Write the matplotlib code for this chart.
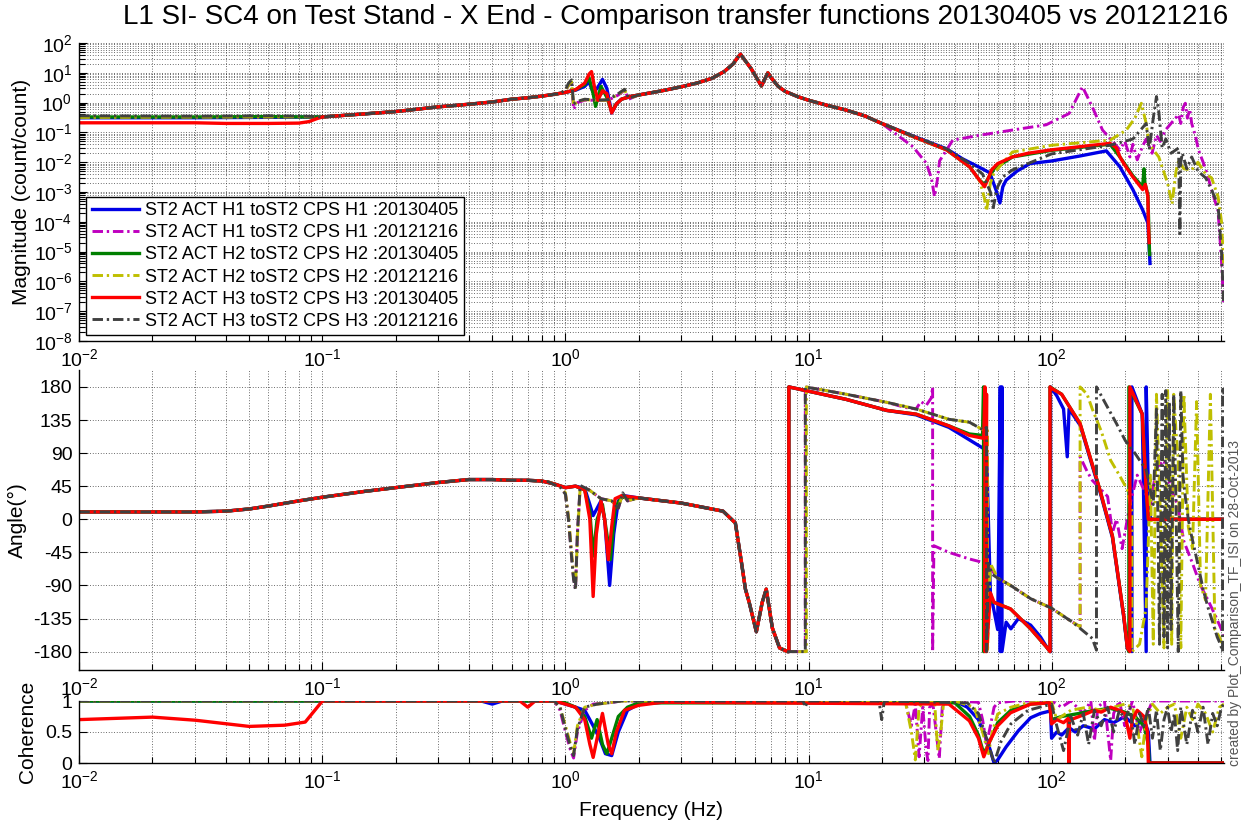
import numpy as np
import matplotlib
matplotlib.use("Agg")
import matplotlib.pyplot as plt
from matplotlib.ticker import LogLocator, NullFormatter, FixedLocator

plt.rcParams['font.family'] = ['Liberation Sans', 'DejaVu Sans']
plt.rcParams['mathtext.fontset'] = 'custom'
plt.rcParams['mathtext.rm'] = 'Liberation Sans'
plt.rcParams['mathtext.it'] = 'Liberation Sans:italic'
plt.rcParams['mathtext.bf'] = 'Liberation Sans:bold'
plt.rcParams['axes.unicode_minus'] = False

# ---------------------------------------------------------------- labels
TITLE = "L1 SI- SC4 on Test Stand - X End - Comparison transfer functions 20130405 vs 20121216"
LABELS = [
    "ST2 ACT H1 toST2 CPS H1 :20130405",
    "ST2 ACT H1 toST2 CPS H1 :20121216",
    "ST2 ACT H2 toST2 CPS H2 :20130405",
    "ST2 ACT H2 toST2 CPS H2 :20121216",
    "ST2 ACT H3 toST2 CPS H3 :20130405",
    "ST2 ACT H3 toST2 CPS H3 :20121216",
]
COLORS = ["#0000e6", "#bf00bf", "#007f00", "#bfbf00", "#ff0000", "#404040"]
STYLES = ["-", "-.", "-", "-.", "-", "-."]
XTICKS = [0.01, 0.1, 1, 10, 100]
PHASE_TICKS = [-180, -135, -90, -45, 0, 45, 90, 135, 180]
COH_TICKS = [0, 0.5, 1]
COH_TICK_LABELS = ["0", "0.5", "1"]

# ---------------------------------------------------------------- magnitude (count/count)
# shared rise between 0.1 Hz and 0.9 Hz
MAG_RISE_F = [0.1, 0.15, 0.2, 0.3, 0.4, 0.5, 0.6, 0.7, 0.8, 0.9]
MAG_RISE = [0.33, 0.42, 0.5, 0.72, 0.88, 1.05, 1.3, 1.45, 1.65, 1.9]
# shared stage resonances between 2 Hz and 17 Hz
MAG_MID_F = [2.0, 2.5, 3.0, 3.5, 4.0, 4.5, 4.9, 5.1, 5.25, 5.5, 5.8, 6.1, 6.4, 6.6,
             6.8, 7.0, 7.5, 8.0, 9.0, 10.0, 12.0, 14.3, 17.0]
MAG_MID = [1.8, 2.5, 3.4, 4.6, 6.5, 11.0, 20.0, 32.0, 42.0, 25.0, 14.0, 7.0, 3.6, 6.0,
           10.0, 7.0, 3.5, 2.4, 1.6, 1.2, 0.8, 0.56, 0.36]

# H1 20130405
MAG_H1_NEW_LOW_F = [0.01, 0.03, 0.06, 0.085]
MAG_H1_NEW_LOW = [0.31, 0.31, 0.32, 0.33]
MAG_H1_NEW_RES_F = [1.0, 1.1, 1.2, 1.25, 1.3, 1.35, 1.42, 1.48, 1.55, 1.62, 1.7, 1.85]
MAG_H1_NEW_RES = [2.2, 2.6, 3.5, 5.0, 2.2, 3.0, 6.0, 3.0, 0.45, 0.9, 1.3, 1.6]
MAG_H1_NEW_HI_F = [20, 27, 37, 43, 50, 55.7, 59, 61.3, 63, 65, 72, 81.5, 100, 130, 168,
                   191, 216, 237, 249, 254]
MAG_H1_NEW_HI = [0.2, 0.075, 0.028, 0.013, 0.007, 0.0044, 0.0012, 4.3e-4, 0.0015, 0.0025,
                 0.005, 0.009, 0.011, 0.016, 0.024, 0.007, 0.0012, 2.5e-4, 9e-5, 4e-6]

# H1 20121216
MAG_H1_OLD_LOW_F = [0.01, 0.03, 0.06, 0.085]
MAG_H1_OLD_LOW = [0.32, 0.32, 0.33, 0.33]
MAG_H1_OLD_RES_F = [0.95, 1.0, 1.03, 1.06, 1.08, 1.12, 1.2, 1.35, 1.5, 1.65, 1.75, 1.82]
MAG_H1_OLD_RES = [2.0, 2.6, 3.8, 4.5, 0.6, 1.0, 1.2, 1.2, 1.2, 1.8, 2.6, 1.3]
MAG_H1_OLD_HI_F = [20, 26.9, 30.5, 32, 33, 34, 34.6, 39.2, 50.5, 69, 95, 118, 134, 147,
                   162, 191, 200, 210, 216, 225, 237, 245, 259, 270, 280, 294, 333, 340,
                   348, 355, 362, 370, 377, 390, 402, 430, 455, 484, 500, 510]
MAG_H1_OLD_HI = [0.2, 0.033, 0.0093, 0.003, 7e-4, 0.003, 0.011, 0.055, 0.08, 0.12, 0.18,
                 0.43, 3.4, 0.72, 0.12, 0.026, 0.05, 0.015, 0.04, 0.012, 0.035, 0.06, 0.02,
                 0.08, 0.05, 0.12, 0.4, 0.2, 0.7, 0.95, 0.3, 0.6, 0.2, 0.08, 0.026, 0.006,
                 1.2e-3, 2.3e-4, 5e-6, 2e-7]

# H2 20130405
MAG_H2_NEW_LOW_F = [0.01, 0.03, 0.06, 0.085]
MAG_H2_NEW_LOW = [0.33, 0.33, 0.34, 0.33]
MAG_H2_NEW_RES_F = [1.0, 1.1, 1.2, 1.25, 1.3, 1.33, 1.4, 1.48, 1.55, 1.62, 1.7, 1.85]
MAG_H2_NEW_RES = [2.2, 2.7, 4.0, 7.0, 2.0, 0.75, 3.5, 1.5, 0.5, 0.9, 1.3, 1.6]
MAG_H2_NEW_HI_F = [20, 27, 37, 46, 50.5, 53, 55, 58, 69, 100, 174, 191, 216, 237, 240,
                   242, 249, 253]
MAG_H2_NEW_HI = [0.2, 0.072, 0.026, 0.007, 0.0025, 0.0018, 0.003, 0.006, 0.015, 0.025,
                 0.04, 0.015, 0.0035, 0.0015, 0.006, 0.002, 0.0008, 8e-6]

# H2 20121216
MAG_H2_OLD_LOW_F = [0.01, 0.03, 0.06, 0.085]
MAG_H2_OLD_LOW = [0.32, 0.33, 0.33, 0.34]
MAG_H2_OLD_RES_F = [0.95, 1.0, 1.03, 1.06, 1.08, 1.12, 1.2, 1.35, 1.5, 1.65, 1.75, 1.82]
MAG_H2_OLD_RES = [2.0, 2.6, 3.8, 5.0, 0.8, 1.1, 1.25, 1.2, 1.2, 1.9, 2.7, 1.35]
MAG_H2_OLD_HI_F = [20, 27, 37, 46, 50.5, 53, 54, 56, 58, 69, 100, 174, 203, 220, 234,
                   245, 252, 276, 300, 313, 325, 333, 350, 377, 400, 430, 455, 484, 500, 510]
MAG_H2_OLD_HI = [0.2, 0.072, 0.026, 0.007, 0.0025, 0.0006, 2.3e-4, 0.002, 0.0044, 0.022,
                 0.037, 0.055, 0.12, 0.3, 0.95, 0.2, 0.04, 0.015, 0.002, 4e-4, 0.005,
                 0.011, 0.006, 0.0055, 0.01, 0.004, 0.003, 7e-4, 1e-4, 4e-6]

# H3 20130405
MAG_H3_NEW_LOW_F = [0.01, 0.02, 0.03, 0.04, 0.06, 0.08, 0.088, 0.095]
MAG_H3_NEW_LOW = [0.21, 0.21, 0.21, 0.2, 0.2, 0.205, 0.23, 0.29]
MAG_H3_NEW_RES_F = [1.0, 1.1, 1.2, 1.25, 1.28, 1.32, 1.36, 1.42, 1.48, 1.55, 1.62, 1.7, 1.85]
MAG_H3_NEW_RES = [2.2, 2.7, 4.5, 9.0, 11.0, 3.0, 1.2, 2.5, 2.0, 0.45, 0.9, 1.3, 1.6]
MAG_H3_NEW_HI_F = [20, 27, 37, 46, 50.5, 53, 55, 56.6, 60, 69, 80, 100, 130, 174, 185,
                   191, 200, 216, 237, 243, 249, 250, 252]
MAG_H3_NEW_HI = [0.2, 0.072, 0.026, 0.007, 0.0025, 0.0015, 0.003, 0.0055, 0.009, 0.015,
                 0.02, 0.026, 0.033, 0.043, 0.03, 0.015, 0.008, 0.0032, 0.0012, 0.0018,
                 0.0007, 1e-4, 2e-5]

# H3 20121216
MAG_H3_OLD_LOW_F = [0.01, 0.03, 0.06, 0.085]
MAG_H3_OLD_LOW = [0.36, 0.35, 0.36, 0.35]
MAG_H3_OLD_RES_F = [0.95, 1.0, 1.03, 1.06, 1.08, 1.12, 1.2, 1.35, 1.5, 1.65, 1.75, 1.82]
MAG_H3_OLD_RES = [2.0, 2.7, 4.5, 5.8, 0.9, 1.1, 1.3, 1.2, 1.25, 2.0, 2.8, 1.4]
MAG_H3_OLD_HI_F = [20, 27, 37, 46, 52, 56, 57.5, 60, 63, 69, 100, 174, 216, 245, 252,
                   262, 270, 276, 285, 295, 310, 333, 337, 340, 345, 360, 377, 400, 430,
                   455, 484, 500, 510]
MAG_H3_OLD_HI = [0.2, 0.075, 0.028, 0.009, 0.004, 0.001, 3e-4, 0.0015, 0.0032, 0.0055,
                 0.019, 0.037, 0.06, 0.2, 0.026, 0.3, 1.6, 0.5, 0.03, 0.06, 0.02, 0.03,
                 4e-5, 0.01, 0.02, 0.006, 0.015, 0.005, 0.003, 0.0012, 3.5e-4, 1e-5, 2e-7]

# ---------------------------------------------------------------- phase (degrees)
PH_LOW_F = [0.01, 0.02, 0.03, 0.04, 0.05, 0.06, 0.08, 0.1, 0.15, 0.2, 0.3, 0.4, 0.5,
            0.6, 0.7, 0.8]
PH_LOW = [10, 10, 10, 11, 14, 18, 25, 30, 38, 43, 50, 54, 54, 53, 53, 52]
PH_MID_F = [2.0, 3.0, 4.45, 5.0, 5.3, 5.5, 5.7, 6.1, 6.45, 6.7, 7.1, 7.6, 8.2]
PH_MID = [29, 22, 11, -5, -59, -95, -113, -153, -113, -95, -148, -175, -180]

PH_H1_NEW_RES_F = [0.9, 1.0, 1.1, 1.2, 1.26, 1.3, 1.35, 1.4, 1.45, 1.52, 1.58, 1.65, 1.75]
PH_H1_NEW_RES = [48, 43, 45, 42, 20, 5, 15, 25, 0, -90, -20, 25, 32]
PH_H1_NEW_HI_F = [8.3, 8.3, 14.3, 21, 27.7, 37.8, 45.9, 52.6, 54, 56, 58, 60, 61.5, 61.5,
                  62.5, 62.5, 65, 68, 73, 82, 90, 96, 99, 99, 105, 112, 116, 118, 131,
                  158, 178, 198, 205, 214, 214, 236, 245, 245, 250, 255, 512]
PH_H1_NEW_HI = [-180, 180, 163, 148, 142, 125, 108, 96, 90, -100, -125, -150, 180, -180,
                180, -180, -140, -149, -135, -144, -160, -175, -180, 180, 168, 150, 85,
                150, 128, 38, -25, -133, -176, -180, 180, 143, -180, 180, 40, 0, 0]

PH_OLD_RES_F = [0.85, 0.9, 0.95, 1.0, 1.03, 1.06, 1.08, 1.1, 1.12, 1.15, 1.25, 1.4,
                1.55, 1.65, 1.72, 1.8]
PH_H1_OLD_RES = [51, 48, 45, 35, 0, -50, -80, -95, -20, 45, 40, 28, 25, 15, 35, 25]
PH_H1_OLD_HI_F = [8.2, 9.7, 9.7, 14.3, 21, 25, 27.7, 29, 30.5, 32, 32.4, 32.4, 32.8,
                  37.8, 45.9, 52.6, 55, 60, 67.8, 82, 100, 122, 128, 131, 131, 140, 147,
                  160, 170, 178, 185, 195, 210, 225, 240, 255, 270, 290, 310, 330, 350,
                  380, 410, 440, 470, 500, 510]
PH_H1_OLD_HI = [-180, -180, 180, 170, 159, 152, 150, 160, 155, 165, 180, -180, -36,
                -45, -54, -59, -63, -80, -90, -108, -121, -140, -144, -146, 85, 65, 53,
                40, 31, -18, 0, -40, 20, 60, 40, 20, 70, 80, 40, 20, -30, -60, -90,
                -110, -130, -150, -160]

PH_H2_NEW_RES_F = [0.9, 1.0, 1.1, 1.2, 1.26, 1.3, 1.35, 1.42, 1.48, 1.53, 1.6, 1.7]
PH_H2_NEW_RES = [48, 43, 45, 40, 10, -50, 0, 20, -20, -55, 15, 30]
PH_H2_NEW_HI_F = [8.3, 8.3, 14.3, 21, 27.7, 37.8, 45.9, 52, 52.5, 52.5, 54, 58, 67.8,
                  82, 96, 98.5, 98.5, 110, 131, 158, 178, 198, 205, 208, 208, 236, 245,
                  250, 512]
PH_H2_NEW_HI = [-180, 180, 163, 148, 143, 127, 116, 114, 180, -180, -110, -113, -122,
                -149, -175, -180, 180, 170, 130, 40, -23, -131, -175, -180, 180, 143, 40,
                0, 0]

PH_H2_OLD_RES = [51, 48, 45, 36, 2, -45, -78, -92, -25, 44, 40, 28, 25, 16, 34, 25]
PH_H2_OLD_HI_F = [8.2, 9.8, 9.8, 14.3, 21, 27.7, 37.8, 45.9, 52.6, 54.5, 54.5, 56, 60,
                  67.8, 82, 100, 122, 131, 131, 140, 147, 160, 175, 190, 205, 214, 214,
                  230, 245, 255, 262, 270, 280, 290, 300, 306, 312, 318, 325, 332, 340,
                  350, 365, 380, 395, 410, 430, 450, 470, 490, 510]
PH_H2_OLD_HI = [-180, -180, 180, 170, 159, 150, 136, 132, 121, 125, -180, -60, -80,
                -90, -108, -121, -140, -146, 180, 170, 150, 120, 80, 60, 40, 10, -180,
                -170, -120, 60, -170, 170, 10, -175, 175, 60, -170, 170, 120, 80, -175,
                170, -10, -40, 160, -90, -110, 170, -150, -160, -175]

PH_H3_NEW_RES_F = [0.9, 1.0, 1.1, 1.2, 1.26, 1.3, 1.34, 1.4, 1.45, 1.5, 1.55, 1.6, 1.7]
PH_H3_NEW_RES = [48, 43, 45, 40, 0, -105, -20, 25, 0, -55, -10, 28, 32]
PH_H3_NEW_HI_F = [8.3, 8.3, 14.3, 21, 27.7, 37.8, 45.9, 52.6, 53.2, 53.2, 54, 54, 56,
                  58, 67.8, 82, 96, 98.5, 98.5, 100, 110, 131, 158, 178, 198, 205, 210,
                  210, 236, 245, 250, 512]
PH_H3_NEW_HI = [-180, 180, 163, 148, 143, 127, 114, 110, 180, -180, 170, -180, -100,
                -113, -122, -149, -175, -180, 180, 178, 170, 130, 40, -23, -131, -175,
                -180, 180, 143, 40, 0, 0]

PH_H3_OLD_RES = [51, 47, 44, 34, -2, -52, -82, -96, -18, 46, 40, 28, 25, 15, 36, 25]
PH_H3_OLD_HI_F = [8.2, 9.7, 9.7, 14.3, 21, 27.7, 37.8, 45.9, 52.6, 54, 54, 55, 57, 60,
                  67.8, 82, 100, 122, 147, 153, 153, 165, 185, 201, 220, 245, 262, 270,
                  278, 285, 290, 295, 300, 305, 310, 318, 325, 332, 340, 347, 355, 365,
                  375, 390, 405, 420, 440, 460, 480, 495, 505, 505, 512]
PH_H3_OLD_HI = [-180, -180, 180, 170, 159, 150, 136, 132, 121, 125, -180, -60, -75,
                -80, -90, -108, -121, -140, -162, -178, 180, 160, 130, 107, 90, 67, 20,
                150, -170, 170, -160, 175, -175, 160, -150, 170, 20, -180, 175, 60, 30,
                0, -20, -45, -70, -95, -120, -140, -160, -170, -180, 180, 170]

# ---------------------------------------------------------------- coherence
COH_H1_NEW_F = [0.01, 0.45, 0.5, 0.55, 0.9, 1.0, 1.1, 1.2, 1.3, 1.38, 1.46, 1.55, 1.65,
                1.8, 2.0, 2.5, 3, 40, 45, 50, 55, 58, 60, 65, 73, 82, 90, 99, 100, 105,
                110, 118, 125, 135, 150, 165, 180, 200, 220, 240, 250, 254, 512]
COH_H1_NEW = [1, 1, 0.95, 1, 1, 0.95, 0.9, 0.85, 0.6, 0.4, 0.15, 0.12, 0.5, 0.85, 0.95,
              0.98, 1, 1, 0.9, 0.7, 0.3, 0.0, 0.05, 0.26, 0.52, 0.73, 0.8, 0.84, 0.4,
              0.5, 0.45, 0.57, 0.5, 0.6, 0.55, 0.7, 0.65, 0.75, 0.6, 0.7, 0.5, 0.0, 0.0]

COH_H1_OLD_F = [0.01, 0.9, 0.95, 1.0, 1.05, 1.08, 1.12, 1.2, 1.3, 1.5, 1.7, 2.0, 25,
                26.5, 27.5, 28.5, 29.5, 30.5, 31, 31.5, 32.5, 33.5, 34.5, 35.5, 37, 40,
                50, 52, 54, 56, 58, 60, 70, 100, 110, 120, 135, 145, 150, 155, 165, 175,
                180, 190, 200, 215, 230, 260, 300, 400, 512]
COH_H1_OLD = [1, 1, 0.85, 0.5, 0.2, 0.08, 0.5, 0.85, 0.95, 0.97, 1, 1, 1, 0.6, 0.95,
              0.1, 0.9, 0.2, 0.04, 0.9, 0.95, 0.5, 0.07, 0.9, 1, 1, 0.98, 0.7, 0.3, 0.6,
              0.9, 0.97, 1, 1, 0.9, 1, 0.8, 1, 0.36, 0.9, 1, 0.04, 0.8, 1, 0.6, 1, 0.5,
              1, 1, 1, 1]

COH_H2_NEW_F = [0.01, 0.9, 1.0, 1.1, 1.2, 1.28, 1.35, 1.42, 1.48, 1.55, 1.65, 1.8, 2.0,
                40, 46, 50, 52.6, 55, 60, 68, 82, 98, 100, 110, 130, 150, 175, 200, 220,
                240, 250, 252, 512]
COH_H2_NEW = [1, 1, 0.97, 0.9, 0.75, 0.4, 0.7, 0.3, 0.15, 0.4, 0.75, 0.9, 0.97, 0.97,
              0.75, 0.45, 0.15, 0.3, 0.65, 0.85, 0.95, 0.97, 0.7, 0.75, 0.8, 0.85, 0.88,
              0.82, 0.75, 0.6, 0.3, 0.0, 0.0]

COH_H2_OLD_F = [0.01, 0.9, 0.95, 1.0, 1.05, 1.08, 1.12, 1.2, 1.35, 1.5, 1.7, 2.0, 25,
                26.5, 27.5, 28.5, 30, 33, 34, 35, 36, 40, 48, 52, 55, 57, 60, 68, 80,
                100, 105, 120, 140, 160, 180, 200, 215, 225, 235, 245, 260, 280, 300,
                320, 340, 360, 380, 400, 430, 460, 490, 512]
COH_H2_OLD = [1, 1, 0.9, 0.6, 0.3, 0.15, 0.6, 0.9, 0.95, 0.97, 1, 1, 1, 0.5, 0.05, 0.9,
              1, 1, 0.2, 0.5, 1, 1, 0.9, 0.5, 0.15, 0.5, 0.79, 0.9, 0.97, 0.98, 0.7,
              0.85, 0.9, 0.85, 0.9, 0.95, 0.9, 0.6, 0.1, 0.7, 0.95, 0.8, 0.9, 0.95, 0.4,
              0.9, 0.7, 0.95, 0.8, 0.5, 0.9, 0.95]

COH_H3_NEW_F = [0.01, 0.02, 0.03, 0.05, 0.07, 0.085, 0.1, 0.65, 0.7, 0.75, 0.9, 1.0,
                1.1, 1.2, 1.26, 1.3, 1.35, 1.42, 1.5, 1.55, 1.62, 1.75, 2.0, 2.5, 37.8,
                45.9, 50, 52.6, 55.8, 60, 67.8, 82, 98, 100, 105, 112, 117, 118, 118.5,
                120, 130, 140, 150, 160, 175, 190, 200, 210, 215, 225, 240, 248, 250, 512]
COH_H3_NEW = [0.70, 0.74, 0.69, 0.59, 0.61, 0.66, 1.0, 1.0, 0.9, 1.0, 1.0, 0.95, 0.9,
              0.7, 0.3, 0.09, 0.4, 0.8, 0.3, 0.15, 0.5, 0.85, 0.93, 0.98, 0.95, 0.68,
              0.4, 0.1, 0.36, 0.6, 0.81, 0.95, 0.97, 0.63, 0.7, 0.65, 0.72, 0.0, 0.68,
              0.7, 0.75, 0.8, 0.85, 0.82, 0.9, 0.85, 0.8, 0.4, 0.7, 0.85, 0.75, 0.5,
              0.0, 0.0]

COH_H3_OLD_F = [0.01, 0.9, 0.95, 1.0, 1.05, 1.08, 1.12, 1.2, 1.35, 1.5, 1.7, 2.0, 9.5,
                9.7, 9.9, 19.5, 20, 20.5, 45, 50, 55, 58, 62, 68, 80, 100, 105, 112, 120,
                128, 135, 142, 150, 160, 170, 180, 190, 200, 210, 220, 230, 240, 250,
                260, 270, 280, 290, 300, 310, 320, 330, 340, 350, 360, 380, 400, 420,
                440, 460, 480, 500, 512]
COH_H3_OLD = [1, 1, 0.9, 0.55, 0.25, 0.12, 0.55, 0.9, 0.95, 0.97, 1, 1, 1, 0.9, 1, 1,
              0.7, 1, 0.97, 0.8, 0.3, 0.0, 0.35, 0.63, 0.85, 0.95, 0.6, 0.2, 0.75, 0.45,
              0.8, 0.3, 0.85, 0.6, 0.9, 0.5, 0.85, 0.7, 0.9, 0.3, 0.8, 0.6, 0.9, 0.4,
              0.85, 0.2, 0.7, 0.9, 0.5, 0.8, 0.2, 0.9, 0.6, 0.3, 0.85, 0.5, 0.9, 0.3,
              0.8, 0.6, 0.9, 0.95]

# ---------------------------------------------------------------- assemble each trace
mag_traces = [
    (MAG_H1_NEW_LOW_F + MAG_RISE_F + MAG_H1_NEW_RES_F + MAG_MID_F + MAG_H1_NEW_HI_F,
     MAG_H1_NEW_LOW + MAG_RISE + MAG_H1_NEW_RES + MAG_MID + MAG_H1_NEW_HI),
    (MAG_H1_OLD_LOW_F + MAG_RISE_F + MAG_H1_OLD_RES_F + MAG_MID_F + MAG_H1_OLD_HI_F,
     MAG_H1_OLD_LOW + MAG_RISE + MAG_H1_OLD_RES + MAG_MID + MAG_H1_OLD_HI),
    (MAG_H2_NEW_LOW_F + MAG_RISE_F + MAG_H2_NEW_RES_F + MAG_MID_F + MAG_H2_NEW_HI_F,
     MAG_H2_NEW_LOW + MAG_RISE + MAG_H2_NEW_RES + MAG_MID + MAG_H2_NEW_HI),
    (MAG_H2_OLD_LOW_F + MAG_RISE_F + MAG_H2_OLD_RES_F + MAG_MID_F + MAG_H2_OLD_HI_F,
     MAG_H2_OLD_LOW + MAG_RISE + MAG_H2_OLD_RES + MAG_MID + MAG_H2_OLD_HI),
    (MAG_H3_NEW_LOW_F + MAG_RISE_F + MAG_H3_NEW_RES_F + MAG_MID_F + MAG_H3_NEW_HI_F,
     MAG_H3_NEW_LOW + MAG_RISE + MAG_H3_NEW_RES + MAG_MID + MAG_H3_NEW_HI),
    (MAG_H3_OLD_LOW_F + MAG_RISE_F + MAG_H3_OLD_RES_F + MAG_MID_F + MAG_H3_OLD_HI_F,
     MAG_H3_OLD_LOW + MAG_RISE + MAG_H3_OLD_RES + MAG_MID + MAG_H3_OLD_HI),
]
ph_traces = [
    (PH_LOW_F + PH_H1_NEW_RES_F + PH_MID_F + PH_H1_NEW_HI_F,
     PH_LOW + PH_H1_NEW_RES + PH_MID + PH_H1_NEW_HI),
    (PH_LOW_F[:-1] + PH_OLD_RES_F + PH_MID_F + PH_H1_OLD_HI_F,
     PH_LOW[:-1] + PH_H1_OLD_RES + PH_MID + PH_H1_OLD_HI),
    (PH_LOW_F + PH_H2_NEW_RES_F + PH_MID_F + PH_H2_NEW_HI_F,
     PH_LOW + PH_H2_NEW_RES + PH_MID + PH_H2_NEW_HI),
    (PH_LOW_F[:-1] + PH_OLD_RES_F + PH_MID_F + PH_H2_OLD_HI_F,
     PH_LOW[:-1] + PH_H2_OLD_RES + PH_MID + PH_H2_OLD_HI),
    (PH_LOW_F + PH_H3_NEW_RES_F + PH_MID_F + PH_H3_NEW_HI_F,
     PH_LOW + PH_H3_NEW_RES + PH_MID + PH_H3_NEW_HI),
    (PH_LOW_F[:-1] + PH_OLD_RES_F + PH_MID_F + PH_H3_OLD_HI_F,
     PH_LOW[:-1] + PH_H3_OLD_RES + PH_MID + PH_H3_OLD_HI),
]
coh_traces = [
    (COH_H1_NEW_F, COH_H1_NEW), (COH_H1_OLD_F, COH_H1_OLD),
    (COH_H2_NEW_F, COH_H2_NEW), (COH_H2_OLD_F, COH_H2_OLD),
    (COH_H3_NEW_F, COH_H3_NEW), (COH_H3_OLD_F, COH_H3_OLD),
]

# ---------------------------------------------------------------- figure layout (pixels)
W, H = 1247, 826
fig = plt.figure(figsize=(W / 100, H / 100), dpi=100)


def box(left, top, right, bottom):
    return [left / W, 1 - bottom / H, (right - left) / W, (bottom - top) / H]


ax_mag = fig.add_axes(box(79.3, 43, 1224, 341))
ax_ph = fig.add_axes(box(79.3, 370, 1224, 670))
ax_coh = fig.add_axes(box(79.3, 701, 1224, 763))

GRID = dict(color="#3a3a3a", linestyle=(0, (1, 2.2)), linewidth=0.6)


def style_axes(ax):
    ax.set_xscale("log")
    ax.set_xlim(0.01, 512)
    ax.set_axisbelow(True)
    ax.spines["top"].set_visible(False)
    ax.spines["right"].set_visible(False)
    for s in ("left", "bottom"):
        ax.spines[s].set_linewidth(1.0)
    ax.xaxis.set_major_locator(FixedLocator(XTICKS))
    ax.xaxis.set_minor_locator(LogLocator(base=10, subs=np.arange(2, 10), numticks=30))
    ax.xaxis.set_minor_formatter(NullFormatter())
    ax.tick_params(which="both", direction="in", top=False, right=False,
                   labelsize=14, pad=5, width=0.8)
    ax.tick_params(which="major", length=6)
    ax.tick_params(which="minor", length=4)
    ax.grid(True, which="both", axis="x", **GRID)


for ax in (ax_mag, ax_ph, ax_coh):
    style_axes(ax)

# magnitude axes
ax_mag.set_yscale("log")
ax_mag.set_ylim(1e-8, 1e2)
ax_mag.yaxis.set_major_locator(LogLocator(base=10, numticks=20))
ax_mag.yaxis.set_minor_locator(LogLocator(base=10, subs=np.arange(2, 10), numticks=30))
ax_mag.yaxis.set_minor_formatter(NullFormatter())
ax_mag.grid(True, which="both", axis="y", **GRID)

# phase axes
ax_ph.set_ylim(-205, 203)
ax_ph.set_yticks(PHASE_TICKS)
ax_ph.grid(True, which="major", axis="y", **GRID)

# coherence axes
ax_coh.set_ylim(0, 1)
ax_coh.set_yticks(COH_TICKS)
ax_coh.set_yticklabels(COH_TICK_LABELS)
ax_coh.grid(True, which="major", axis="y", **GRID)

# ---------------------------------------------------------------- traces
for i in range(6):
    lw = 2.4 if STYLES[i] == "-" else 2.1
    kw = dict(color=COLORS[i], linewidth=lw, solid_joinstyle="round")
    if STYLES[i] == "-.":
        kw["dashes"] = (3.6, 1.3, 0.8, 1.3)
    else:
        kw["linestyle"] = "-"
    f, m = mag_traces[i]
    ax_mag.plot(f, m, label=LABELS[i], **kw)
    f, p = ph_traces[i]
    ax_ph.plot(f, p, **kw)
    f, c = coh_traces[i]
    ax_coh.plot(f, c, **kw)

leg = ax_mag.legend(loc="lower left", bbox_to_anchor=(0.006, 0.02), fontsize=13,
                    frameon=True, fancybox=False, edgecolor="black", framealpha=1,
                    borderpad=0.3, labelspacing=0.28, handlelength=2.6,
                    handletextpad=0.35, borderaxespad=0)
leg.get_frame().set_linewidth(1.0)

# ---------------------------------------------------------------- text
fig.text(676 / W, 1 - 17 / H, TITLE, ha="center", va="center", fontsize=20)
fig.text(22 / W, 1 - 192 / H, "Magnitude (count/count)", rotation=90,
         ha="center", va="center", fontsize=15)
fig.text(17 / W, 1 - 520 / H, "Angle(°)", rotation=90, ha="center", va="center",
         fontsize=15)
fig.text(27 / W, 1 - 732 / H, "Coherence", rotation=90, ha="center", va="center",
         fontsize=15)
fig.text(651 / W, 1 - 810 / H, "Frequency (Hz)", ha="center", va="center", fontsize=15)
fig.text(1235 / W, 1 - 603 / H, "created by Plot_Comparison_TF_ISI on 28-Oct-2013",
         rotation=90, ha="center", va="center", fontsize=10, color="#555555")

fig.savefig("out.png", dpi=100)
